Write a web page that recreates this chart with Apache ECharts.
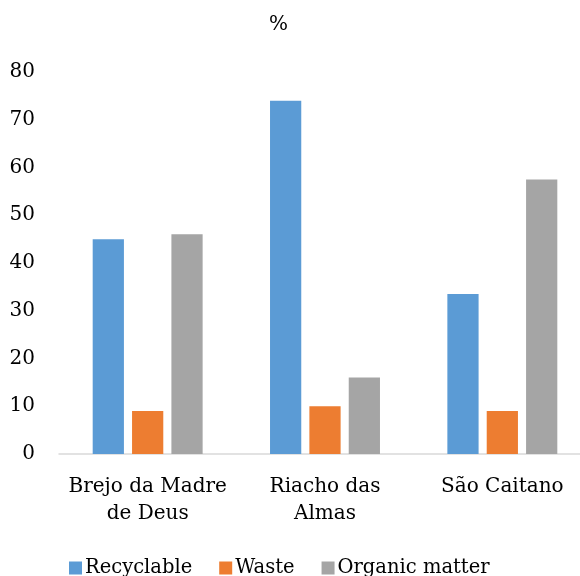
<!DOCTYPE html>
<html>
<head>
<meta charset="utf-8">
<script src="https://cdn.jsdelivr.net/npm/echarts@6/dist/echarts.min.js"></script>
<style>html,body{margin:0;padding:0;background:#fff;overflow:hidden;width:580px;height:576px;}#c{width:592px;height:576px;}</style>
</head>
<body>
<div id="c"></div>
<script>
const categories = ['Brejo da Madre\nde Deus', 'Riacho das\nAlmas', 'São Caitano'];
const recyclable = [45, 74, 33.5];
const waste = [9, 10, 9];
const organic = [46, 16, 57.5];
const yTicks = [0, 10, 20, 30, 40, 50, 60, 70, 80];

const FONT = 'DejaVu Serif';
const chart = echarts.init(document.getElementById('c'));
chart.setOption({
  animation: false,
  backgroundColor: '#fff',
  title: {
    text: '%', left: 264, top: 10,
    textStyle: { fontFamily: FONT, fontSize: 20, fontWeight: 'normal', color: '#000' }
  },
  legend: {
    bottom: -7, left: 64,
    itemWidth: 13, itemHeight: 13, itemGap: 27,
    icon: 'rect',
    textStyle: { fontFamily: FONT, fontSize: 19.5, color: '#000', padding: [0,0,0,-2] },
    data: ['Recyclable', 'Waste', 'Organic matter']
  },
  grid: { left: 59, right: 1, top: 72, bottom: 122, containLabel: false },
  xAxis: {
    type: 'category', data: categories,
    axisLine: { lineStyle: { color: '#D9D9D9', width: 1.5 } },
    axisTick: { show: false },
    axisLabel: { fontFamily: FONT, fontSize: 20, color: '#000', margin: 19, lineHeight: 27, interval: 0 }
  },
  yAxis: {
    type: 'value', min: 0, max: 80, interval: 10,
    axisLine: { show: false }, axisTick: { show: false },
    splitLine: { show: false },
    axisLabel: { fontFamily: FONT, fontSize: 20, color: '#000', margin: 24,
      formatter: v => yTicks.includes(v) ? String(v) : '' }
  },
  series: [
    { name: 'Recyclable', type: 'bar', data: recyclable, itemStyle: { color: '#5B9BD5' }, barGap: '26%', barCategoryGap: '38%' },
    { name: 'Waste', type: 'bar', data: waste, itemStyle: { color: '#ED7D31' } },
    { name: 'Organic matter', type: 'bar', data: organic, itemStyle: { color: '#A5A5A5' } }
  ]
});
</script>
</body>
</html>
